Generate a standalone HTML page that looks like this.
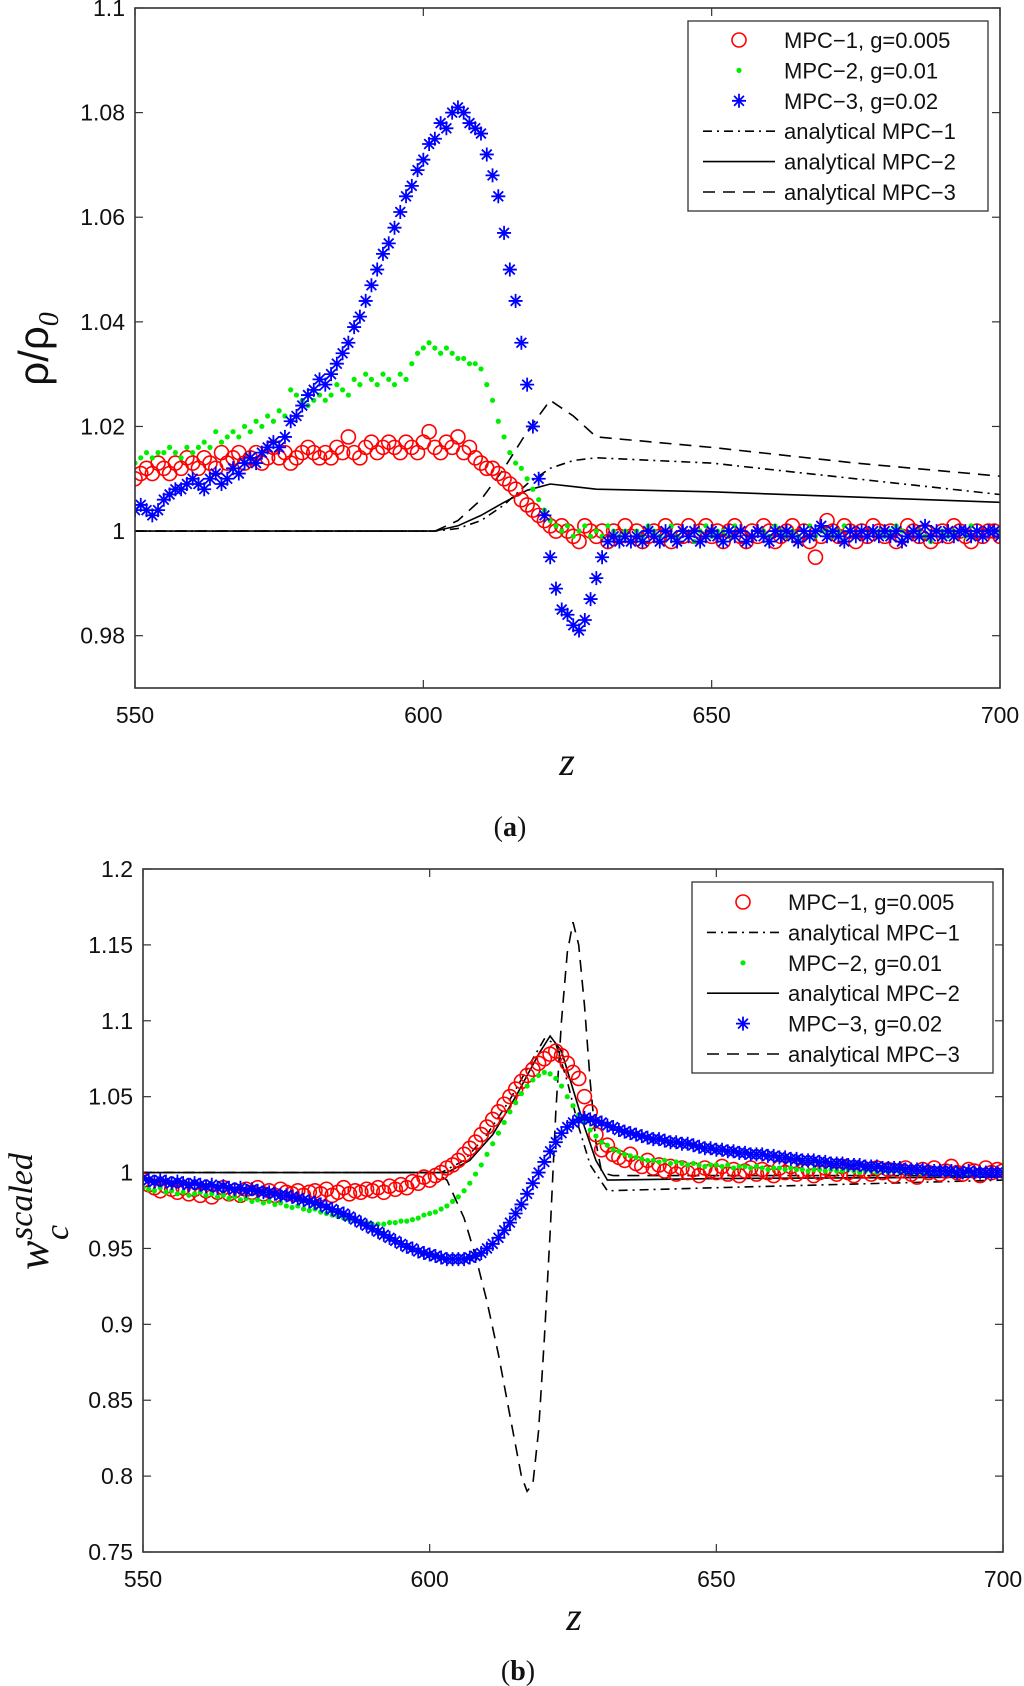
<!DOCTYPE html>
<html><head><meta charset="utf-8">
<style>
html,body{margin:0;padding:0;background:#fff;}
svg{display:block;}
text{font-family:"Liberation Sans",sans-serif;}
</style></head>
<body>
<svg id="fig" width="1024" height="1686" viewBox="0 0 1024 1686" xmlns="http://www.w3.org/2000/svg"></svg>
<script>
// ---------- shared categories ----------
const zStart = 550, zEnd = 700;
const xTicks = [550, 600, 650, 700];

// ---------- chart (a) data ----------
const aTicksY = [0.98, 1, 1.02, 1.04, 1.06, 1.08, 1.1];
const aTickLabels = ["0.98", "1", "1.02", "1.04", "1.06", "1.08", "1.1"];
const aRed = [1.010,1.011,1.012,1.011,1.013,1.012,1.011,1.013,1.012,1.014,
1.013,1.012,1.014,1.013,1.012,1.015,1.013,1.014,1.015,1.013,
1.014,1.015,1.013,1.014,1.016,1.014,1.015,1.013,1.014,1.015,
1.016,1.015,1.014,1.015,1.014,1.016,1.015,1.018,1.015,1.014,
1.016,1.017,1.015,1.016,1.017,1.016,1.015,1.017,1.016,1.015,
1.017,1.019,1.016,1.015,1.017,1.016,1.018,1.015,1.016,1.014,
1.013,1.012,1.012,1.011,1.010,1.009,1.008,1.006,1.005,1.004,
1.003,1.002,1.001,1.000,1.001,1.000,0.999,0.998,1.001,1.000,
0.999,1.000,0.998,1.000,0.999,1.001,0.999,1.000,0.998,0.999,
1.000,0.999,1.001,0.998,1.000,0.999,1.001,0.999,1.000,1.001,
0.999,1.000,0.998,1.000,1.001,0.999,0.998,1.000,0.999,1.001,
1.000,0.998,0.999,1.000,1.001,0.999,1.000,0.998,0.995,0.999,
1.002,1.000,0.999,1.001,1.000,0.998,1.000,0.999,1.001,1.000,
0.999,1.000,0.998,0.999,1.001,1.000,0.999,1.000,0.998,0.999,
1.000,0.999,1.001,1.000,0.999,0.998,1.000,0.999,1.000,1.000,0.999];
const aGreen = [1.013,1.014,1.015,1.014,1.015,1.015,1.016,1.015,1.014,1.016,
1.015,1.016,1.017,1.016,1.019,1.017,1.018,1.019,1.018,1.020,
1.019,1.021,1.020,1.022,1.021,1.023,1.022,1.027,1.026,1.025,
1.024,1.025,1.026,1.025,1.026,1.028,1.027,1.026,1.029,1.028,
1.030,1.029,1.028,1.030,1.029,1.028,1.030,1.029,1.032,1.034,
1.035,1.036,1.035,1.034,1.035,1.034,1.033,1.033,1.032,1.032,
1.031,1.028,1.025,1.021,1.018,1.015,1.013,1.012,1.010,1.008,
1.006,1.004,1.002,1.001,1.000,1.001,0.999,1.000,1.001,0.999,
1.000,0.999,1.001,1.000,0.999,1.000,0.998,1.000,0.999,1.001,
1.000,0.999,1.000,1.001,0.999,1.000,0.999,0.998,1.000,1.001,
0.999,1.000,1.000,0.999,1.001,1.000,0.998,0.999,1.000,1.000,
0.999,1.001,1.000,0.999,1.000,0.999,1.000,1.001,0.999,1.000,
1.000,0.999,1.000,1.001,1.000,0.999,1.000,0.999,1.000,1.000,
0.999,1.000,1.001,1.000,0.999,1.000,1.000,0.999,0.998,1.000,
1.000,0.999,1.000,1.000,0.999,1.001,1.000,0.999,1.000,1.000,1.000];
const aBlue = [1.004,1.005,1.004,1.003,1.004,1.006,1.007,1.008,1.008,1.009,
1.010,1.009,1.008,1.010,1.011,1.009,1.010,1.012,1.011,1.013,
1.014,1.013,1.015,1.016,1.017,1.016,1.018,1.021,1.022,1.024,
1.026,1.027,1.029,1.028,1.030,1.032,1.034,1.036,1.039,1.041,
1.044,1.047,1.050,1.053,1.055,1.058,1.061,1.064,1.066,1.069,
1.071,1.074,1.075,1.078,1.077,1.080,1.081,1.080,1.078,1.077,
1.076,1.072,1.068,1.064,1.057,1.050,1.044,1.036,1.028,1.020,
1.010,1.003,0.995,0.989,0.985,0.984,0.982,0.981,0.983,0.987,
0.991,0.995,0.998,0.999,0.998,0.999,0.998,0.999,0.998,1.000,
0.999,0.998,1.000,0.999,0.998,1.000,0.999,1.000,0.998,0.999,
1.000,0.999,0.998,1.000,0.999,1.000,0.998,0.999,1.000,0.999,
0.998,1.000,0.999,1.000,0.999,0.998,1.000,0.999,1.000,1.001,
0.999,1.000,0.999,0.998,1.000,0.999,1.000,0.999,1.000,0.999,
1.000,0.999,1.000,0.998,0.999,1.000,0.999,1.001,0.999,1.000,
0.999,1.000,0.999,1.000,1.000,0.999,1.000,0.999,1.000,1.000,0.999];
const aLineX = [550, 602, 606, 610, 614, 618, 622, 626, 630, 650, 675, 700];
const aAnal1 = [1, 1, 1.0005, 1.002, 1.005, 1.009, 1.012, 1.0135, 1.014, 1.013, 1.010, 1.007];
const aAnal2 = [1, 1, 1.001, 1.003, 1.0055, 1.0078, 1.009, 1.0085, 1.008, 1.0075, 1.0065, 1.0055];
const aAnal3 = [1, 1, 1.002, 1.006, 1.012, 1.019, 1.025, 1.022, 1.018, 1.016, 1.013, 1.0105];

// ---------- chart (b) data ----------
const bTicksY = [0.75, 0.8, 0.85, 0.9, 0.95, 1, 1.05, 1.1, 1.15, 1.2];
const bTickLabels = ["0.75", "0.8", "0.85", "0.9", "0.95", "1", "1.05", "1.1", "1.15", "1.2"];
const bRed = [0.995,0.992,0.990,0.988,0.991,0.989,0.987,0.990,0.986,0.989,
0.985,0.988,0.984,0.987,0.990,0.986,0.988,0.985,0.989,0.987,
0.990,0.986,0.988,0.985,0.989,0.987,0.986,0.988,0.985,0.987,
0.988,0.986,0.989,0.985,0.987,0.990,0.986,0.988,0.987,0.989,
0.988,0.990,0.987,0.991,0.989,0.992,0.990,0.994,0.993,0.997,
0.995,0.998,1.000,1.003,1.005,1.008,1.012,1.016,1.020,1.025,
1.030,1.035,1.040,1.045,1.050,1.055,1.060,1.064,1.068,1.072,
1.075,1.078,1.080,1.077,1.072,1.066,1.062,1.050,1.040,1.025,
1.015,1.018,1.012,1.010,1.008,1.012,1.006,1.004,1.008,1.003,
1.005,1.001,1.004,0.999,1.003,1.000,1.002,0.998,1.003,1.001,
1.000,1.004,0.999,1.002,0.998,1.001,1.003,0.999,1.002,1.000,
0.998,1.003,1.000,1.004,0.999,1.001,1.002,0.998,1.000,1.003,
1.001,0.999,1.004,1.000,0.998,1.002,1.001,0.999,1.003,1.000,
1.002,0.998,1.001,1.003,0.999,0.997,1.002,1.000,1.003,0.999,
1.001,1.004,1.000,0.999,1.002,1.001,0.998,1.003,1.000,1.002,1.001];
const bGreen = [0.990,0.989,0.988,0.990,0.987,0.988,0.986,0.987,0.985,0.986,
0.987,0.985,0.986,0.984,0.985,0.983,0.984,0.982,0.983,0.981,
0.982,0.980,0.981,0.979,0.980,0.978,0.977,0.978,0.976,0.975,
0.976,0.974,0.973,0.972,0.971,0.970,0.969,0.968,0.967,0.967,
0.966,0.966,0.966,0.967,0.967,0.968,0.968,0.969,0.970,0.972,
0.973,0.974,0.976,0.978,0.981,0.984,0.988,0.993,0.999,1.005,
1.012,1.019,1.026,1.033,1.040,1.046,1.052,1.057,1.061,1.064,
1.066,1.065,1.062,1.057,1.050,1.044,1.038,1.033,1.028,1.024,
1.020,1.018,1.015,1.014,1.012,1.011,1.010,1.009,1.008,1.008,
1.007,1.008,1.006,1.007,1.006,1.005,1.006,1.005,1.004,1.005,
1.005,1.004,1.005,1.003,1.004,1.004,1.003,1.004,1.003,1.002,
1.003,1.003,1.002,1.003,1.002,1.002,1.001,1.002,1.002,1.001,
1.002,1.001,1.001,1.002,1.001,1.000,1.001,1.001,1.000,1.001,
1.000,1.001,1.000,1.000,1.001,1.000,0.999,1.000,1.000,1.000,
0.999,1.000,1.000,0.999,1.000,1.000,0.999,1.000,1.000,1.000,1.000];
const bBlue = [0.996,0.995,0.994,0.995,0.994,0.993,0.994,0.993,0.992,0.993,
0.992,0.991,0.992,0.990,0.991,0.990,0.989,0.990,0.988,0.989,
0.988,0.987,0.987,0.986,0.985,0.985,0.984,0.983,0.982,0.981,
0.980,0.979,0.977,0.976,0.974,0.973,0.971,0.969,0.967,0.965,
0.963,0.961,0.959,0.957,0.955,0.953,0.951,0.950,0.948,0.947,
0.946,0.945,0.944,0.943,0.943,0.943,0.943,0.944,0.945,0.947,
0.950,0.953,0.957,0.962,0.967,0.973,0.979,0.986,0.993,1.000,
1.007,1.014,1.020,1.026,1.030,1.033,1.035,1.036,1.035,1.034,
1.033,1.031,1.030,1.028,1.027,1.026,1.025,1.024,1.023,1.022,
1.022,1.021,1.020,1.020,1.019,1.019,1.018,1.017,1.016,1.016,
1.015,1.015,1.014,1.014,1.013,1.013,1.012,1.012,1.012,1.011,
1.011,1.010,1.010,1.009,1.009,1.008,1.008,1.008,1.007,1.007,
1.006,1.006,1.006,1.005,1.005,1.005,1.004,1.004,1.004,1.003,
1.003,1.003,1.003,1.002,1.002,1.002,1.002,1.001,1.001,1.001,
1.001,1.001,1.000,1.000,1.001,1.000,1.000,1.000,1.000,1.000,1.000];
const bLineX1 = [550, 602, 606, 610, 614, 618, 620, 622, 624, 626, 628, 631, 650, 700];
const bAnal1 = [1, 1, 1.008, 1.025, 1.048, 1.075, 1.088, 1.085, 1.06, 1.03, 1.005, 0.988, 0.99, 0.995];
const bLineX2 = [550, 603, 607, 611, 615, 619, 621, 623, 625, 627, 629, 631, 650, 700];
const bAnal2 = [1, 1, 1.008, 1.025, 1.05, 1.078, 1.09, 1.08, 1.055, 1.03, 1.008, 0.995, 0.996, 0.997];
const bLineX3 = [550, 601, 603, 606, 608, 610, 612, 614, 616, 617, 618, 619, 620, 621, 622, 623, 624, 625, 626, 627, 628, 629, 630, 632, 650, 700];
const bAnal3 = [1, 1, 0.995, 0.97, 0.945, 0.915, 0.88, 0.84, 0.80, 0.79, 0.795, 0.83, 0.89, 0.96, 1.04, 1.10, 1.145, 1.165, 1.15, 1.11, 1.06, 1.02, 1.0, 0.998, 0.998, 0.998];

// ---------- helpers ----------
const NS = "http://www.w3.org/2000/svg";
const svg = document.getElementById("fig");
function mk(tag, attrs, parent) {
  const e = document.createElementNS(NS, tag);
  for (const k in attrs) e.setAttribute(k, attrs[k]);
  (parent || svg).appendChild(e);
  return e;
}
function zRange() { const a = []; for (let z = zStart; z <= zEnd; z++) a.push(z); return a; }
const zs = zRange();

function makeAxes(cfg) {
  const xs = v => cfg.L + (v - cfg.x0) / (cfg.x1 - cfg.x0) * (cfg.R - cfg.L);
  const ys = v => cfg.B - (v - cfg.y0) / (cfg.y1 - cfg.y0) * (cfg.B - cfg.T);
  return { xs, ys };
}

function drawChart(cfg) {
  const g = mk("g", {});
  
  
  const { xs, ys } = makeAxes(cfg);
  const clipId = cfg.name + "-clip";
  const defs = mk("defs", {}, g);
  const cp = mk("clipPath", { id: clipId }, defs);
  mk("rect", { x: cfg.L, y: cfg.T, width: cfg.R - cfg.L, height: cfg.B - cfg.T }, cp);

  const ticksG = mk("g", { stroke: "#333", "stroke-width": 1.2 }, g);
  
  
  cfg.yTicks.forEach((v, i) => {
    const y = ys(v);
    mk("line", { x1: cfg.L, x2: cfg.L + 8, y1: y, y2: y }, ticksG);
    mk("line", { x1: cfg.R, x2: cfg.R - 8, y1: y, y2: y }, ticksG);
    const t = mk("text", { x: cfg.L - 10, y: y + 8, "text-anchor": "end", "font-size": 23, fill: "#111" }, g);
    
    
    t.textContent = cfg.yLabels[i];
  });
  xTicks.forEach(v => {
    const x = xs(v);
    mk("line", { x1: x, x2: x, y1: cfg.B, y2: cfg.B - 8 }, ticksG);
    mk("line", { x1: x, x2: x, y1: cfg.T, y2: cfg.T + 8 }, ticksG);
    const t = mk("text", { x: x, y: cfg.B + 35, "text-anchor": "middle", "font-size": 23, fill: "#111" }, g);
    
    
    t.textContent = String(v);
  });

  const plot = mk("g", { "clip-path": "url(#" + clipId + ")" }, g);
  
  

  cfg.lines.forEach(ln => {
    const d = ln.x.map((xv, i) => (i ? "L" : "M") + xs(xv).toFixed(1) + "," + ys(ln.y[i]).toFixed(1)).join(" ");
    const p = mk("path", { d: d, fill: "none", stroke: "#000", "stroke-width": 1.6, "stroke-dasharray": ln.dash }, plot);
    
    
  });

  cfg.series.forEach(s => {
    const sg = mk("g", {}, plot);
    
    
    s.y.forEach((v, i) => {
      drawMarker(sg, s.type, xs(zs[i]), ys(v));
    });
  });

  const box = mk("rect", { x: cfg.L, y: cfg.T, width: cfg.R - cfg.L, height: cfg.B - cfg.T, fill: "none", stroke: "#333", "stroke-width": 1.6 }, g);
  
  

  const lg = mk("g", {}, g);
  
  
  const L = cfg.legend;
  mk("rect", { x: L.x, y: L.y, width: L.w, height: L.h, fill: "#fff", stroke: "#333", "stroke-width": 1.3 }, lg);
  L.entries.forEach((en, i) => {
    const ey = L.row0 + i * L.dy;
    const eg = mk("g", {}, lg);
    
    
    if (en.type === "line") {
      mk("line", { x1: L.x + 15, x2: L.x + 87, y1: ey, y2: ey, stroke: "#000", "stroke-width": 1.6, "stroke-dasharray": en.dash }, eg);
    } else {
      drawMarker(eg, en.type, L.x + 51, ey);
    }
    const t = mk("text", { x: L.x + 96, y: ey + 8, "font-size": 22, fill: "#111" }, eg);
    t.textContent = en.label;
  });
}

function drawMarker(parent, type, x, y) {
  if (type === "circle") {
    mk("circle", { cx: x, cy: y, r: 7, fill: "none", stroke: "#f00", "stroke-width": 1.6 }, parent);
  } else if (type === "dot") {
    mk("circle", { cx: x, cy: y, r: 2.6, fill: "#0e0" }, parent);
  } else if (type === "star") {
    const r = 7;
    const d = `M${x - r},${y}L${x + r},${y}M${x},${y - r}L${x},${y + r}M${x - r * 0.7},${y - r * 0.7}L${x + r * 0.7},${y + r * 0.7}M${x - r * 0.7},${y + r * 0.7}L${x + r * 0.7},${y - r * 0.7}`;
    mk("path", { d: d, stroke: "#00f", "stroke-width": 1.8, fill: "none" }, parent);
  }
}

const DASHDOT = "9,5,2,5", DASHED = "12,8", SOLID = "none";

drawChart({
  name: "chart-a", L: 135, R: 1000, T: 8, B: 688, x0: 550, x1: 700, y0: 0.97, y1: 1.1,
  yTicks: aTicksY, yLabels: aTickLabels,
  lines: [
    { name: "analytical-mpc1-line", x: aLineX, y: aAnal1, dash: DASHDOT },
    { name: "analytical-mpc2-line", x: aLineX, y: aAnal2, dash: SOLID },
    { name: "analytical-mpc3-line", x: aLineX, y: aAnal3, dash: DASHED }
  ],
  series: [
    { name: "mpc1-points", type: "circle", y: aRed },
    { name: "mpc2-points", type: "dot", y: aGreen },
    { name: "mpc3-points", type: "star", y: aBlue }
  ],
  legend: { x: 688, y: 21, w: 300, h: 190, row0: 40, dy: 30.4, entries: [
    { type: "circle", label: "MPC\u22121, g=0.005" },
    { type: "dot", label: "MPC\u22122, g=0.01" },
    { type: "star", label: "MPC\u22123, g=0.02" },
    { type: "line", dash: DASHDOT, label: "analytical MPC\u22121" },
    { type: "line", dash: SOLID, label: "analytical MPC\u22122" },
    { type: "line", dash: DASHED, label: "analytical MPC\u22123" }
  ]}
});

drawChart({
  name: "chart-b", L: 143, R: 1003, T: 869, B: 1552, x0: 550, x1: 700, y0: 0.75, y1: 1.2,
  yTicks: bTicksY, yLabels: bTickLabels,
  lines: [
    { name: "analytical-mpc1-line", x: bLineX1, y: bAnal1, dash: DASHDOT },
    { name: "analytical-mpc2-line", x: bLineX2, y: bAnal2, dash: SOLID },
    { name: "analytical-mpc3-line", x: bLineX3, y: bAnal3, dash: DASHED }
  ],
  series: [
    { name: "mpc1-points", type: "circle", y: bRed },
    { name: "mpc2-points", type: "dot", y: bGreen },
    { name: "mpc3-points", type: "star", y: bBlue }
  ],
  legend: { x: 692, y: 882, w: 301, h: 191, row0: 902, dy: 30.4, entries: [
    { type: "circle", label: "MPC\u22121, g=0.005" },
    { type: "line", dash: DASHDOT, label: "analytical MPC\u22121" },
    { type: "dot", label: "MPC\u22122, g=0.01" },
    { type: "line", dash: SOLID, label: "analytical MPC\u22122" },
    { type: "star", label: "MPC\u22123, g=0.02" },
    { type: "line", dash: DASHED, label: "analytical MPC\u22123" }
  ]}
});
</script>
<script>
(function(){
  const NS = "http://www.w3.org/2000/svg";
  const svg = document.getElementById("fig");
  const SERIF = 'font-family:"Liberation Serif",serif;';
  const html = `
  <text x="567" y="775" text-anchor="middle" style='${SERIF}font-style:italic;font-size:40px' fill="#111">z</text>
  <text x="510" y="836" text-anchor="middle" style='${SERIF}font-size:28px' fill="#111">(<tspan font-weight="bold">a</tspan>)</text>
  <text transform="translate(48,349) rotate(-90)" text-anchor="middle" style="font-size:42px" fill="#111">ρ/ρ<tspan style='${SERIF}font-style:italic;font-size:28px' dy="10">0</tspan></text>
  <text x="574" y="1630" text-anchor="middle" style='${SERIF}font-style:italic;font-size:40px' fill="#111">z</text>
  <text x="518" y="1680" text-anchor="middle" style='${SERIF}font-size:28px' fill="#111">(<tspan font-weight="bold">b</tspan>)</text>
  <g transform="translate(48,1210) rotate(-90)" fill="#111">
    <text x="-60" y="0" style='${SERIF}font-style:italic;font-size:44px'>w</text>
    <text x="-30" y="-16" style='${SERIF}font-style:italic;font-size:34px'>scaled</text>
    <text x="-30" y="20" style='${SERIF}font-style:italic;font-size:34px'>c</text>
  </g>`;
  const tmp = document.createElementNS(NS, "g");
  tmp.innerHTML = html;
  while (tmp.firstChild) svg.appendChild(tmp.firstChild);
})();
</script>
</body></html>
